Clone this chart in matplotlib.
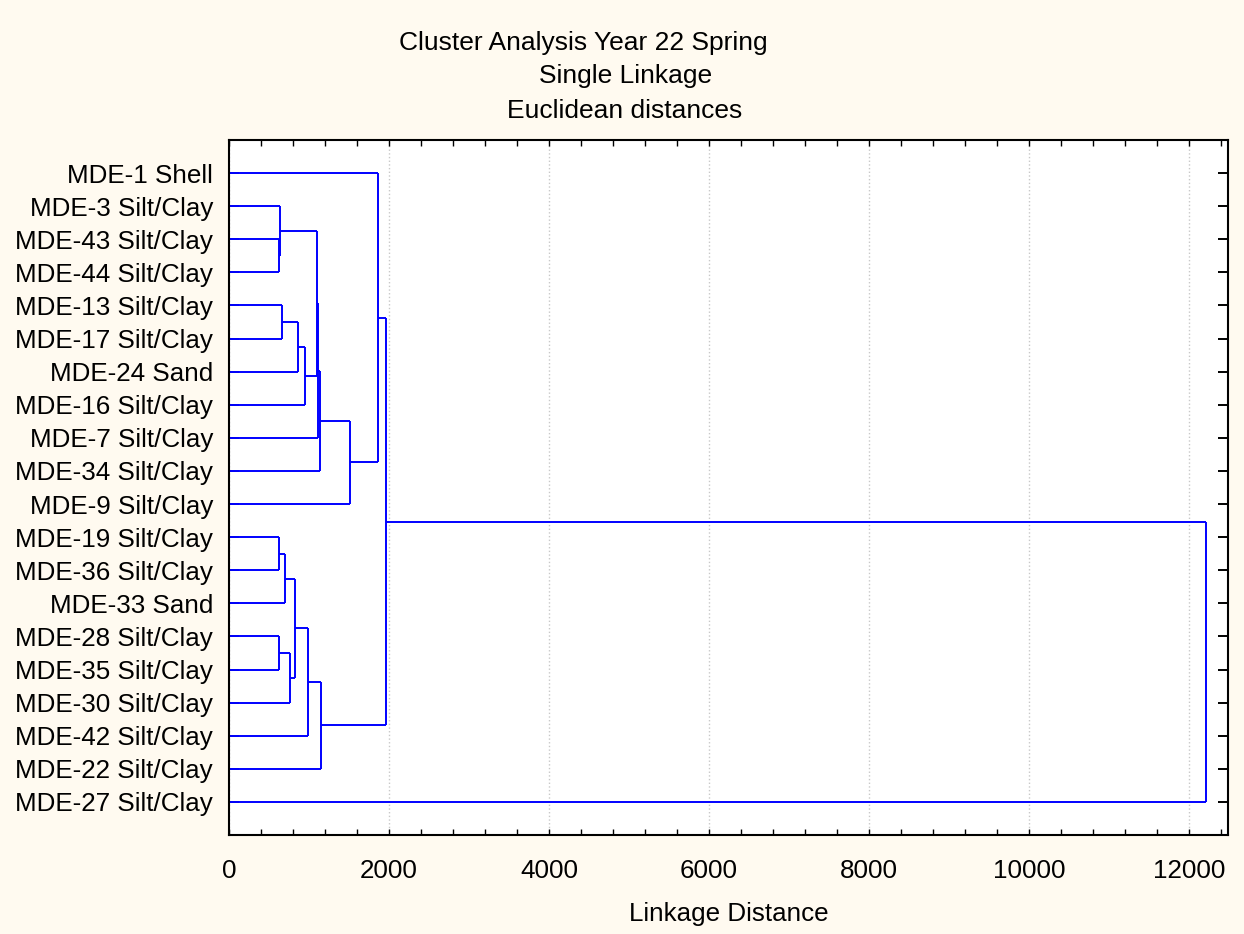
import numpy as np
import matplotlib.pyplot as plt
from matplotlib.ticker import MultipleLocator

plt.rcParams['font.family'] = ['Liberation Sans', 'DejaVu Sans']

# leaves, top to bottom
labels = ["MDE-1 Shell", "MDE-3 Silt/Clay", "MDE-43 Silt/Clay", "MDE-44 Silt/Clay",
          "MDE-13 Silt/Clay", "MDE-17 Silt/Clay", "MDE-24 Sand", "MDE-16 Silt/Clay",
          "MDE-7 Silt/Clay", "MDE-34 Silt/Clay", "MDE-9 Silt/Clay", "MDE-19 Silt/Clay",
          "MDE-36 Silt/Clay", "MDE-33 Sand", "MDE-28 Silt/Clay", "MDE-35 Silt/Clay",
          "MDE-30 Silt/Clay", "MDE-42 Silt/Clay", "MDE-22 Silt/Clay", "MDE-27 Silt/Clay"]

# joins: each new cluster gets id len(labels)+k
join_a = [2, 11, 14, 1, 4, 21, 22, 25, 24, 28, 27, 23, 31, 32, 30, 33, 0, 36, 37]
join_b = [3, 12, 15, 20, 5, 13, 16, 26, 6, 7, 17, 29, 8, 9, 18, 10, 35, 34, 19]
join_dist = [628, 629, 629, 638, 662, 696, 762, 829, 859, 954, 991,
             1105, 1112, 1138, 1146, 1512, 1859, 1962, 12212]

fs = 18.7

fig = plt.figure(figsize=(12.44, 9.34), dpi=100, facecolor='#fffaf0')
ax = fig.add_axes([229/1244, 1-835/934, (1228-229)/1244, (835-140)/934])
ax.set_facecolor('white')

n = len(labels)
ypos = {i: i + 1 for i in range(n)}
xpos = {i: 0.0 for i in range(n)}
for k, (a, b, d) in enumerate(zip(join_a, join_b, join_dist)):
    ya, yb = ypos[a], ypos[b]
    ax.plot([xpos[a], d], [ya, ya], color='#0000ff', lw=1.4, solid_capstyle='butt')
    ax.plot([xpos[b], d], [yb, yb], color='#0000ff', lw=1.4, solid_capstyle='butt')
    ax.plot([d, d], [ya, yb], color='#0000ff', lw=1.4, solid_capstyle='butt')
    ypos[n + k] = (ya + yb) / 2
    xpos[n + k] = d

ax.set_xlim(0, 12490)
ax.set_ylim(n + 1, 0)
ax.xaxis.set_major_locator(MultipleLocator(2000))
ax.xaxis.set_minor_locator(MultipleLocator(400))
ax.set_yticks(range(1, n + 1))
ax.set_yticklabels(labels)
ax.grid(axis='x', which='major', linestyle=':', color='#c8c8c8', lw=1)
ax.set_axisbelow(True)

ax.tick_params(axis='x', which='both', direction='in', top=True, length=4,
               width=1, labelsize=fs, pad=17)
ax.tick_params(axis='y', direction='in', right=True, length=7, width=1.4,
               labelsize=fs, pad=11.5)
for s in ax.spines.values():
    s.set_linewidth(1.5)

ax.set_xlabel("Linkage Distance", fontsize=fs, labelpad=14)

fig.text(583/1244, 1-43/934, "Cluster Analysis Year 22 Spring", fontsize=19,
         ha='center', va='center')
fig.text(626/1244, 1-76/934, "Single Linkage", fontsize=19, ha='center', va='center')
fig.text(625/1244, 1-111/934, "Euclidean distances", fontsize=19, ha='center', va='center')

fig.savefig("out.png", dpi=100, facecolor=fig.get_facecolor())
